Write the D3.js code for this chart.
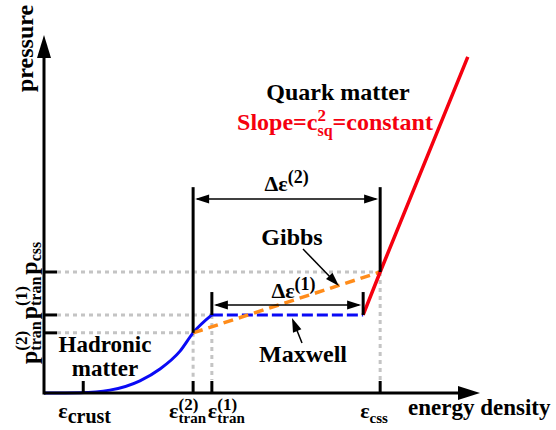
<!DOCTYPE html>
<html>
<head>
<meta charset="utf-8">
<script src="https://cdn.jsdelivr.net/npm/d3@7"></script>
<style>
  body { margin: 0; background: #fff; }
  svg { display: block; }
</style>
</head>
<body>
<script>
// chart values (energy density / pressure, arbitrary units)
var hadronicEps = [0, 0.83, 1.51, 2.2, 2.66, 3.12, 3.42, 3.85];
var hadronicP   = [0, 0.01, 0.08, 0.34, 0.67, 1.17, 1.68, 2.18];
var maxwellEps  = [3.85, 7.32];
var maxwellP    = [2.18, 2.18];
var gibbsEps    = [3.42, 7.71];
var gibbsP      = [1.68, 3.38];
var quarkEps    = [7.32, 7.71, 9.72];
var quarkP      = [2.18, 3.38, 9.39];

var epsTicks = [0.9, 3.42, 3.85, 7.71];
var epsTickNames = ["crust", "tran", "tran", "css"];
var epsTickSups = ["", "(2)", "(1)", ""];
var pTicks = [1.68, 2.18, 3.38];
var pTickNames = ["tran", "tran", "css"];
var pTickSups = ["(2)", "(1)", ""];

var width = 556, height = 430;
var svg = d3.select("body").append("svg")
    .attr("width", width)
    .attr("height", height);

var x = d3.scaleLinear().domain([0, 10]).range([44, 480]);
var y = d3.scaleLinear().domain([0, 10]).range([393, 35]);

var line = d3.line()
    .x(function(d) { return x(d[0]); })
    .y(function(d) { return y(d[1]); });

function zip(a, b) { return a.map(function(v, i) { return [v, b[i]]; }); }

// every text gets the serif face directly
function txt(parent, size) {
    return parent.append("text")
        .attr("font-family", "Liberation Serif")
        .attr("font-weight", "bold")
        .attr("font-size", size);
}

// symbol with stacked sup / sub, returns group + width
function sym(parent, base, sup, sub, o) {
    var g = parent.append("g").attr("fill", o.color || "#000");
    var b = txt(g, o.size).attr("x", 0).attr("y", 0).text(base);
    var xx = b.node().getComputedTextLength();
    var w = 0;
    if (sup) {
        var t = txt(g, o.supSize).attr("x", xx).attr("y", o.supDy).text(sup);
        w = Math.max(w, t.node().getComputedTextLength());
    }
    if (sub) {
        var s = txt(g, o.subSize).attr("x", xx).attr("y", o.subDy).text(sub);
        w = Math.max(w, s.node().getComputedTextLength());
    }
    xx += w;
    if (o.after) {
        var a = txt(g, o.size).attr("x", xx).attr("y", 0).text(o.after);
        xx += a.node().getComputedTextLength();
    }
    return { g: g, width: xx };
}

// gray dotted guides
var guide = svg.append("g")
    .attr("stroke", "#c4c4c4")
    .attr("stroke-width", 3)
    .attr("stroke-dasharray", "4,4")
    .attr("fill", "none");
pTicks.forEach(function(p, i) {
    guide.append("line")
        .attr("x1", x(0) + 13).attr("x2", x(epsTicks[i + 1]))
        .attr("y1", y(p)).attr("y2", y(p));
});
pTicks.forEach(function(p, i) {
    guide.append("line")
        .attr("x1", x(epsTicks[i + 1])).attr("x2", x(epsTicks[i + 1]))
        .attr("y1", y(p)).attr("y2", y(0) - 13);
});

// curves
svg.append("path")
    .datum(zip(hadronicEps, hadronicP))
    .attr("d", line.curve(d3.curveMonotoneX))
    .attr("fill", "none").attr("stroke", "#0a0af5").attr("stroke-width", 3);
line.curve(d3.curveLinear);
svg.append("path")
    .datum(zip(maxwellEps, maxwellP))
    .attr("d", line)
    .attr("fill", "none").attr("stroke", "#0a0af5").attr("stroke-width", 3)
    .attr("stroke-dasharray", "11,4");
svg.append("path")
    .datum(zip(gibbsEps, gibbsP))
    .attr("d", line)
    .attr("fill", "none").attr("stroke", "#ff8c1a").attr("stroke-width", 3.5)
    .attr("stroke-dasharray", "10,6");
svg.append("path")
    .datum(zip(quarkEps, quarkP))
    .attr("d", line)
    .attr("fill", "none").attr("stroke", "#f5000f").attr("stroke-width", 3.5);

// axes with arrows
svg.append("line")
    .attr("x1", x(0)).attr("x2", x(10) - 18)
    .attr("y1", y(0)).attr("y2", y(0))
    .attr("stroke", "#000").attr("stroke-width", 3);
svg.append("path")
    .attr("d", "M" + x(10) + "," + y(0) + "l-22,-7l0,14z").attr("fill", "#000");
svg.append("line")
    .attr("x1", x(0)).attr("x2", x(0))
    .attr("y1", y(0) + 1.5).attr("y2", y(10) + 18)
    .attr("stroke", "#000").attr("stroke-width", 3);
svg.append("path")
    .attr("d", "M" + x(0) + "," + y(10) + "l-7,23l14,0z").attr("fill", "#000");

// ticks
epsTicks.forEach(function(e) {
    svg.append("line")
        .attr("x1", x(e)).attr("x2", x(e))
        .attr("y1", y(0)).attr("y2", y(0) - 12)
        .attr("stroke", "#000").attr("stroke-width", 3);
});
pTicks.forEach(function(p) {
    svg.append("line")
        .attr("x1", x(0)).attr("x2", x(0) + 13)
        .attr("y1", y(p)).attr("y2", y(p))
        .attr("stroke", "#000").attr("stroke-width", 3);
});

// black bars for the width annotations
var bars = [[epsTicks[1], pTicks[0], 5.75], [epsTicks[3], pTicks[2], 5.75],
            [maxwellEps[0], maxwellP[0], 2.82], [maxwellEps[1], maxwellP[1], 2.82]];
bars.forEach(function(b) {
    svg.append("line")
        .attr("x1", x(b[0])).attr("x2", x(b[0]))
        .attr("y1", y(b[1])).attr("y2", y(b[2]))
        .attr("stroke", "#000").attr("stroke-width", 3);
});

function arrowHead(x2, y2, x1, y1) {
    var a = Math.atan2(y2 - y1, x2 - x1) * 180 / Math.PI;
    svg.append("path")
        .attr("d", "M0,0L-14,-4.5L-14,4.5Z")
        .attr("transform", "translate(" + x2 + "," + y2 + ") rotate(" + a + ")")
        .attr("fill", "#000");
}
function dblArrow(e1, e2, p) {
    svg.append("line")
        .attr("x1", x(e1) + 4).attr("x2", x(e2) - 4)
        .attr("y1", y(p)).attr("y2", y(p))
        .attr("stroke", "#000").attr("stroke-width", 1.5);
    arrowHead(x(e1) + 2, y(p), x(e2), y(p));
    arrowHead(x(e2) - 2, y(p), x(e1), y(p));
}
dblArrow(epsTicks[1], epsTicks[3], 5.42);
dblArrow(maxwellEps[0], maxwellEps[1], 2.46);

var deltaOpt = { size: 22, supSize: 18, supDy: -8, subDy: 0 };
var d2 = sym(svg, "\u0394\u03b5", "(2)", null, deltaOpt);
d2.g.attr("transform", "translate(" + ((x(epsTicks[1]) + x(epsTicks[3])) / 2 - d2.width / 2) + "," + (y(5.42) - 8) + ")");
var d1 = sym(svg, "\u0394\u03b5", "(1)", null, deltaOpt);
d1.g.attr("transform", "translate(" + ((x(maxwellEps[0]) + x(maxwellEps[1])) / 2 + 6 - d1.width / 2) + "," + (y(2.46) - 7) + ")");

// Gibbs / Maxwell pointers
txt(svg, 24).attr("x", 292).attr("y", 245).attr("text-anchor", "middle").text("Gibbs");
svg.append("line").attr("x1", 303).attr("y1", 249).attr("x2", 334).attr("y2", 281)
    .attr("stroke", "#000").attr("stroke-width", 1.5);
arrowHead(339, 286, 303, 249);
txt(svg, 24).attr("x", 303).attr("y", 362).attr("text-anchor", "middle").text("Maxwell");
svg.append("line").attr("x1", 302).attr("y1", 343).attr("x2", 294).attr("y2", 323)
    .attr("stroke", "#000").attr("stroke-width", 1.5);
arrowHead(292, 318, 302, 343);

// region labels
txt(svg, 24).attr("x", 338).attr("y", 100).attr("text-anchor", "middle").text("Quark matter");
var sl = sym(svg, "Slope=c", "2", "sq", { size: 24, supSize: 17, subSize: 16, supDy: -9, subDy: 6, color: "#f5000f", after: "=constant" });
sl.g.attr("transform", "translate(" + (335 - sl.width / 2) + ",130)");
txt(svg, 23).attr("x", 105).attr("y", 352).attr("text-anchor", "middle").text("Hadronic");
txt(svg, 23).attr("x", 105).attr("y", 376).attr("text-anchor", "middle").text("matter");

// axis titles
txt(svg, 23).attr("x", 408).attr("y", 415).text("energy density");
txt(svg, 24).attr("transform", "translate(33,92) rotate(-90)").text("pressure");

// epsilon tick labels
var epsOffsets = [-25, -24, -4, -20];
var epsSubSizes = [20, 15, 15, 15];
epsTicks.forEach(function(e, i) {
    var s = sym(svg, "\u03b5", epsTickSups[i], epsTickNames[i],
        { size: 22, supSize: 17, subSize: epsSubSizes[i], supDy: -8, subDy: 5 });
    s.g.attr("transform", "translate(" + (x(e) + epsOffsets[i]) + ",418)");
});

// pressure tick labels (rotated, one run)
var pg = svg.append("g").attr("transform", "translate(37,364) rotate(-90)");
var run = 0;
pTicks.forEach(function(p, i) {
    var s = sym(pg, "p", pTickSups[i], pTickNames[i],
        { size: 24, supSize: 17, subSize: 16, supDy: -10, subDy: 4 });
    s.g.attr("transform", "translate(" + run + ",0)");
    run += s.width + 2;
});
</script>
</body>
</html>
